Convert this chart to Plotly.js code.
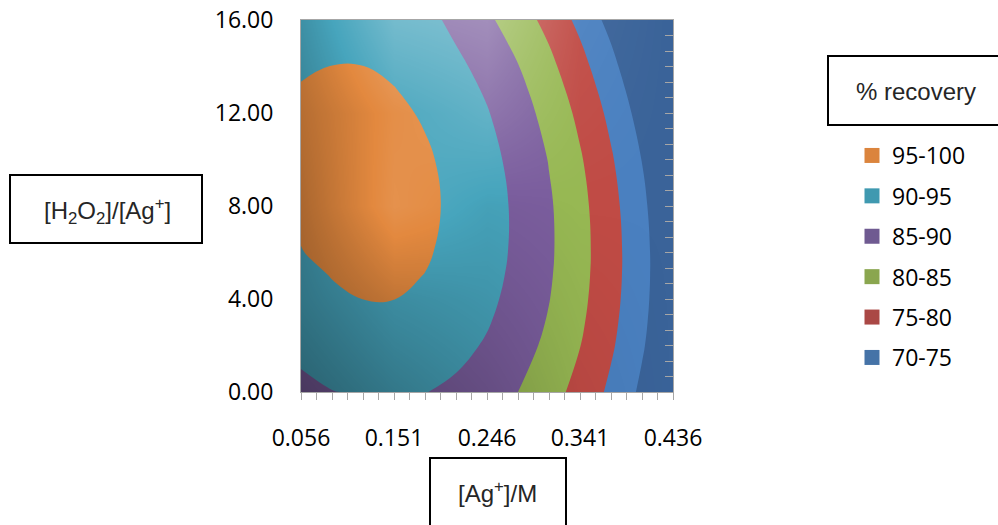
<!DOCTYPE html>
<html>
<head>
<meta charset="utf-8">
<script src="https://cdn.plot.ly/plotly-3.0.1.min.js"></script>
<style>
html,body{margin:0;padding:0;background:#fff;}
#chart{width:998px;height:525px;}
</style>
</head>
<body>
<div id="chart"></div>
<script>
// [Ag+] / M  (x grid)
const agConc = [0.056, 0.0877, 0.1193, 0.151, 0.1827, 0.2143, 0.246, 0.2777, 0.3093, 0.341, 0.3727, 0.4043, 0.436];
// [H2O2]/[Ag+]  (y grid)
const peroxideRatio = [0, 2, 3, 4, 5, 6, 8, 10, 12, 13, 14, 15, 16];
// % recovery, one row per peroxideRatio value
const recovery = [
  [89.30, 89.90, 90.30, 90.51, 90.11, 89.06, 87.36, 85.00, 81.99, 78.32, 74.00, 69.03, 63.40],
  [90.72, 92.16, 92.94, 93.07, 92.54, 91.36, 89.53, 87.04, 83.90, 80.10, 75.65, 70.55, 64.79],
  [91.94, 93.32, 94.03, 94.10, 93.51, 92.26, 90.36, 87.81, 84.60, 80.74, 76.22, 71.05, 65.23],
  [93.00, 94.31, 95.02, 95.03, 94.30, 92.99, 91.03, 88.41, 85.14, 81.21, 76.63, 71.39, 65.50],
  [93.89, 95.13, 95.72, 95.65, 94.93, 93.55, 91.52, 88.84, 85.50, 81.51, 76.86, 71.56, 65.61],
  [94.90, 95.78, 96.30, 96.17, 95.39, 93.95, 91.85, 89.10, 85.70, 81.64, 76.93, 71.57, 65.55],
  [95.60, 96.58, 96.98, 96.71, 95.80, 94.23, 92.00, 89.12, 85.59, 81.40, 76.56, 71.07, 64.92],
  [95.85, 96.71, 96.98, 96.58, 95.54, 93.84, 91.48, 88.47, 84.81, 80.49, 75.52, 69.90, 63.62],
  [95.55, 96.17, 96.30, 95.78, 94.60, 92.77, 90.29, 87.15, 83.36, 78.91, 73.81, 68.05, 61.64],
  [95.13, 95.65, 95.72, 95.13, 93.89, 91.99, 89.44, 86.24, 82.38, 77.86, 72.70, 66.88, 60.40],
  [94.75, 95.04, 95.04, 94.31, 93.00, 91.04, 88.42, 85.15, 81.23, 76.65, 71.42, 65.53, 58.99],
  [93.51, 94.10, 94.03, 93.32, 91.94, 89.92, 87.24, 83.90, 79.91, 75.27, 69.97, 64.02, 57.42],
  [92.54, 93.07, 92.94, 92.16, 90.72, 89.40, 85.88, 82.48, 78.43, 73.72, 68.36, 62.34, 55.67]
];

// legend bands (top to bottom)
const bandLabels = ['95-100', '90-95', '85-90', '80-85', '75-80', '70-75'];
const legendColors = ['#DB843D', '#3F99B0', '#6F5A91', '#8AA64F', '#AA4845', '#4573A7'];
// fill colours, lowest band (<70) to highest (95-100)
const fillColors = ['#3A6399', '#4A80C0', '#C04B45', '#97B853', '#7B5E9E', '#47A5BD', '#E3893F'];

// surface lighting (styling overlay): -1 dark .. +1 light
const shadeX = [0.056, 0.151, 0.246, 0.341, 0.436];
const shadeY = [0, 4, 8, 12, 16];
const shadeZ = [
  [-0.80, -0.55, -0.35, -0.10, 0.00],
  [-0.60, -0.30, -0.20, -0.05, 0.00],
  [-0.50,  0.15, -0.05,  0.00, 0.00],
  [-0.40,  0.10,  0.30,  0.05, 0.00],
  [-0.25,  0.50,  0.60,  0.10, 0.00]
];

const xTickVals = [0.056, 0.151, 0.246, 0.341, 0.436];
const xTickLabels = ['0.056', '0.151', '0.246', '0.341', '0.436'];
const yTickVals = [0, 4, 8, 12, 16];
const yTickLabels = ['0.00', '4.00', '8.00', '12.00', '16.00'];

// plot area in pixels
const L = 301, T = 20, W = 372, H = 372;
const px2x = p => (p - L) / W;
const py2y = p => (T + H - p) / H;

// discrete colour scale for bands
const n = fillColors.length;
const colorscale = [];
fillColors.forEach((c, k) => {
  const a = Math.max(0, (2 * k - 1) / (2 * (n - 1)));
  const b = Math.min(1, (2 * k + 1) / (2 * (n - 1)));
  colorscale.push([a, c], [b, c]);
});

const traces = [
  {
    type: 'contour',
    x: agConc, y: peroxideRatio, z: recovery,
    autocontour: false,
    contours: {start: 70, end: 95, size: 5, coloring: 'fill', showlines: false},
    line: {width: 0, smoothing: 1.2},
    colorscale: colorscale, zauto: false, zmin: 67.5, zmax: 97.5,
    showscale: false, hoverinfo: 'skip', showlegend: false
  },
  {
    type: 'heatmap', yaxis: 'y2',
    x: shadeX, y: shadeY, z: shadeZ,
    zsmooth: 'best', zmin: -1, zmax: 1, zauto: false,
    colorscale: [[0, 'rgba(0,0,0,0.5)'], [0.5, 'rgba(0,0,0,0)'], [0.5, 'rgba(255,255,255,0)'], [1, 'rgba(255,255,255,0.5)']],
    showscale: false, hoverinfo: 'skip', showlegend: false
  }
];
bandLabels.forEach((lab, i) => {
  traces.push({
    type: 'scatter', x: [null], y: [null], yaxis: 'y2',
    mode: 'markers', name: lab, legendgroup: 'g' + i,
    marker: {symbol: 'square', size: 15, color: legendColors[i]},
    hoverinfo: 'skip'
  });
});

const tickFont = {family: 'Open Sans', size: 23, color: '#000'};
const boxFont = {family: 'Liberation Sans', size: 24, color: '#262626'};
const frame = '#a6a6a6';

const boxes = [
  [10, 175, 202, 243],
  [430, 458, 566, 545],
  [828, 56, 1010, 125]
];

const layout = {
  width: 998, height: 525,
  margin: {l: L, r: 998 - L - W, t: T, b: 525 - T - H, pad: 0},
  paper_bgcolor: '#fff', plot_bgcolor: '#fff',
  font: {family: 'Open Sans', size: 23, color: '#000'},
  xaxis: {
    range: [0.056, 0.436], tickmode: 'array', tickvals: xTickVals, ticktext: xTickLabels,
    ticks: 'outside', ticklen: 7, tickwidth: 1, tickcolor: frame,
    minor: {tickmode: 'linear', tick0: 0.056, dtick: (0.436 - 0.056) / 24, ticks: 'outside', ticklen: 7, tickwidth: 1, tickcolor: frame, showgrid: false},
    showline: true, linecolor: frame, linewidth: 1, mirror: true,
    showgrid: false, zeroline: false, tickfont: tickFont, ticklabelstandoff: 18
  },
  yaxis: {
    range: [0, 16], tickmode: 'array', tickvals: yTickVals, ticktext: yTickLabels,
    ticks: '', showline: true, linecolor: frame, linewidth: 1, mirror: true,
    showgrid: false, zeroline: false, tickfont: tickFont, ticklabelstandoff: 22
  },
  yaxis2: {
    overlaying: 'y', side: 'right', range: [0, 16],
    tickmode: 'linear', tick0: 0, dtick: 16 / 24,
    ticks: 'inside', ticklen: 8, tickwidth: 1, tickcolor: frame,
    showticklabels: false, showgrid: false, zeroline: false, showline: false
  },
  legend: {
    x: px2x(852), y: py2y(134), xanchor: 'left', yanchor: 'top',
    font: {family: 'Open Sans', size: 23, color: '#000'},
    tracegroupgap: 7.5, bgcolor: 'rgba(0,0,0,0)', itemwidth: 30
  },
  shapes: boxes.map(b => ({
    type: 'rect', xref: 'paper', yref: 'paper',
    x0: px2x(b[0]), x1: px2x(b[2]), y0: py2y(b[3]), y1: py2y(b[1]),
    line: {color: '#000', width: 2}, fillcolor: 'rgba(0,0,0,0)'
  })),
  annotations: [
    {text: '[H<sub>2</sub>O<sub>2</sub>]/[Ag<sup>+</sup>]', x: px2x(107), y: py2y(211)},
    {text: '[Ag<sup>+</sup>]/M', x: px2x(497), y: py2y(492)},
    {text: '% recovery', x: px2x(916), y: py2y(91)}
  ].map(a => Object.assign({xref: 'paper', yref: 'paper', xanchor: 'center', yanchor: 'middle', showarrow: false, font: boxFont}, a))
};

Plotly.newPlot('chart', traces, layout, {displayModeBar: false, staticPlot: true});
</script>
</body>
</html>
